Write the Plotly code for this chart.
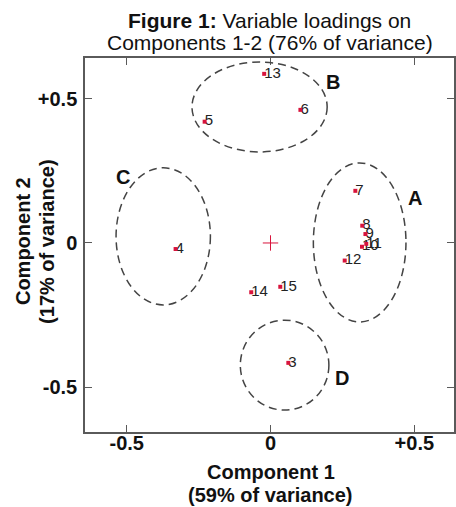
import plotly.graph_objects as go

# Variable loadings on the first two principal components
var_ids = ["3", "4", "5", "6", "7", "8", "9", "10", "11", "12", "13", "14", "15"]
comp1 = [0.062, -0.330, -0.229, 0.104, 0.295, 0.319, 0.330, 0.318, 0.333, 0.258, -0.022, -0.067, 0.034]
comp2 = [-0.416, -0.021, 0.421, 0.462, 0.181, 0.060, 0.031, -0.013, -0.003, -0.061, 0.587, -0.171, -0.152]

# Cluster outlines: centre (x, y) and half-widths (rx, ry)
cluster_names = ["A", "B", "C", "D"]
cluster_cx = [0.310, -0.038, -0.373, 0.049]
cluster_cy = [0.002, 0.472, 0.023, -0.424]
cluster_rx = [0.161, 0.235, 0.164, 0.154]
cluster_ry = [0.276, 0.156, 0.238, 0.156]
cluster_label_x = [0.503, 0.218, -0.512, 0.249]
cluster_label_y = [0.157, 0.560, 0.230, -0.470]

tick_vals = [-0.5, 0, 0.5]
tick_text = ["-0.5", "0", "+0.5"]

FONT = "Liberation Sans, Arial, sans-serif"
AXIS_GREY = "#5a5a5a"

W, H = 456, 507
M_L, M_R, M_T, M_B = 85, 0, 58, 75
PLOT_W = W - M_L - M_R
PLOT_H = H - M_T - M_B


def paper_x(px):
    """Figure pixel column -> paper coordinate (relative to the plot area)."""
    return (px - M_L) / PLOT_W


def paper_y(py):
    """Figure pixel row (from top) -> paper coordinate."""
    return (H - M_B - py) / PLOT_H


fig = go.Figure()

# Origin marker
fig.add_trace(go.Scatter(
    x=[0], y=[0], mode="markers",
    marker=dict(symbol="cross-thin", size=11, line=dict(color="#d8143c", width=1)),
    hoverinfo="skip", showlegend=False,
))

# Loadings: labels set tight against each point, then the point markers
fig.add_trace(go.Scatter(
    x=comp1, y=comp2, mode="text",
    text=var_ids, textposition="middle right",
    textfont=dict(family=FONT, size=15, color="#222222"),
    hoverinfo="skip", showlegend=False,
))
fig.add_trace(go.Scatter(
    x=comp1, y=comp2, mode="markers",
    marker=dict(symbol="square", size=4, color="#d8143c"),
    hoverinfo="skip", showlegend=False,
))

# Dashed cluster ellipses
for cx, cy, rx, ry in zip(cluster_cx, cluster_cy, cluster_rx, cluster_ry):
    fig.add_shape(
        type="circle", xref="x", yref="y",
        x0=cx - rx, x1=cx + rx, y0=cy - ry, y1=cy + ry,
        line=dict(color="#444444", width=1.5, dash="8px,5px"),
    )

# Cluster letters
for name, lx, ly in zip(cluster_names, cluster_label_x, cluster_label_y):
    fig.add_annotation(
        x=lx, y=ly, xref="x", yref="y", text=f"<b>{name}</b>", showarrow=False,
        font=dict(family=FONT, size=20, color="#111111"),
    )

# Title and axis titles, one annotation per line
title_lines = [("<b>Figure 1:</b> Variable loadings on", 20.5),
               ("Components 1-2 (76% of variance)", 42.7)]
for txt, ypx in title_lines:
    fig.add_annotation(
        x=paper_x(270.5), y=paper_y(ypx), xref="paper", yref="paper",
        text=txt, showarrow=False, yanchor="middle", xanchor="center",
        font=dict(family=FONT, size=21, color="#111111"),
    )

x_title = [("<b>Component 1</b>", 471.7), ("<b>(59% of variance)</b>", 495.0)]
for txt, ypx in x_title:
    fig.add_annotation(
        x=paper_x(272), y=paper_y(ypx), xref="paper", yref="paper",
        text=txt, showarrow=False, yanchor="middle", xanchor="center",
        font=dict(family=FONT, size=20, color="#111111"),
    )

y_title = [("<b>Component 2</b>", 22.7), ("<b>(17% of variance)</b>", 46.7)]
for txt, xpx in y_title:
    fig.add_annotation(
        x=paper_x(xpx), y=paper_y(241), xref="paper", yref="paper",
        text=txt, showarrow=False, textangle=-90,
        xanchor="center", yanchor="middle",
        font=dict(family=FONT, size=20, color="#111111"),
    )

axis_common = dict(
    tickvals=tick_vals, ticktext=tick_text,
    ticks="inside", ticklen=7, tickwidth=1, tickcolor=AXIS_GREY,
    showline=True, linecolor=AXIS_GREY, linewidth=1.5, mirror="ticks",
    showgrid=False, zeroline=False,
    tickfont=dict(family=FONT, size=20, color="#111111", weight="bold"),
    fixedrange=True,
)

fig.update_layout(
    width=W, height=H,
    margin=dict(l=M_L, r=M_R, t=M_T, b=M_B),
    paper_bgcolor="white", plot_bgcolor="white",
    xaxis=dict(range=[-0.645, 0.638], ticklabelstandoff=-8, **axis_common),
    yaxis=dict(range=[-0.656, 0.642], ticklabelstandoff=2, **axis_common),
    showlegend=False,
)

fig.write_html("out.html")
